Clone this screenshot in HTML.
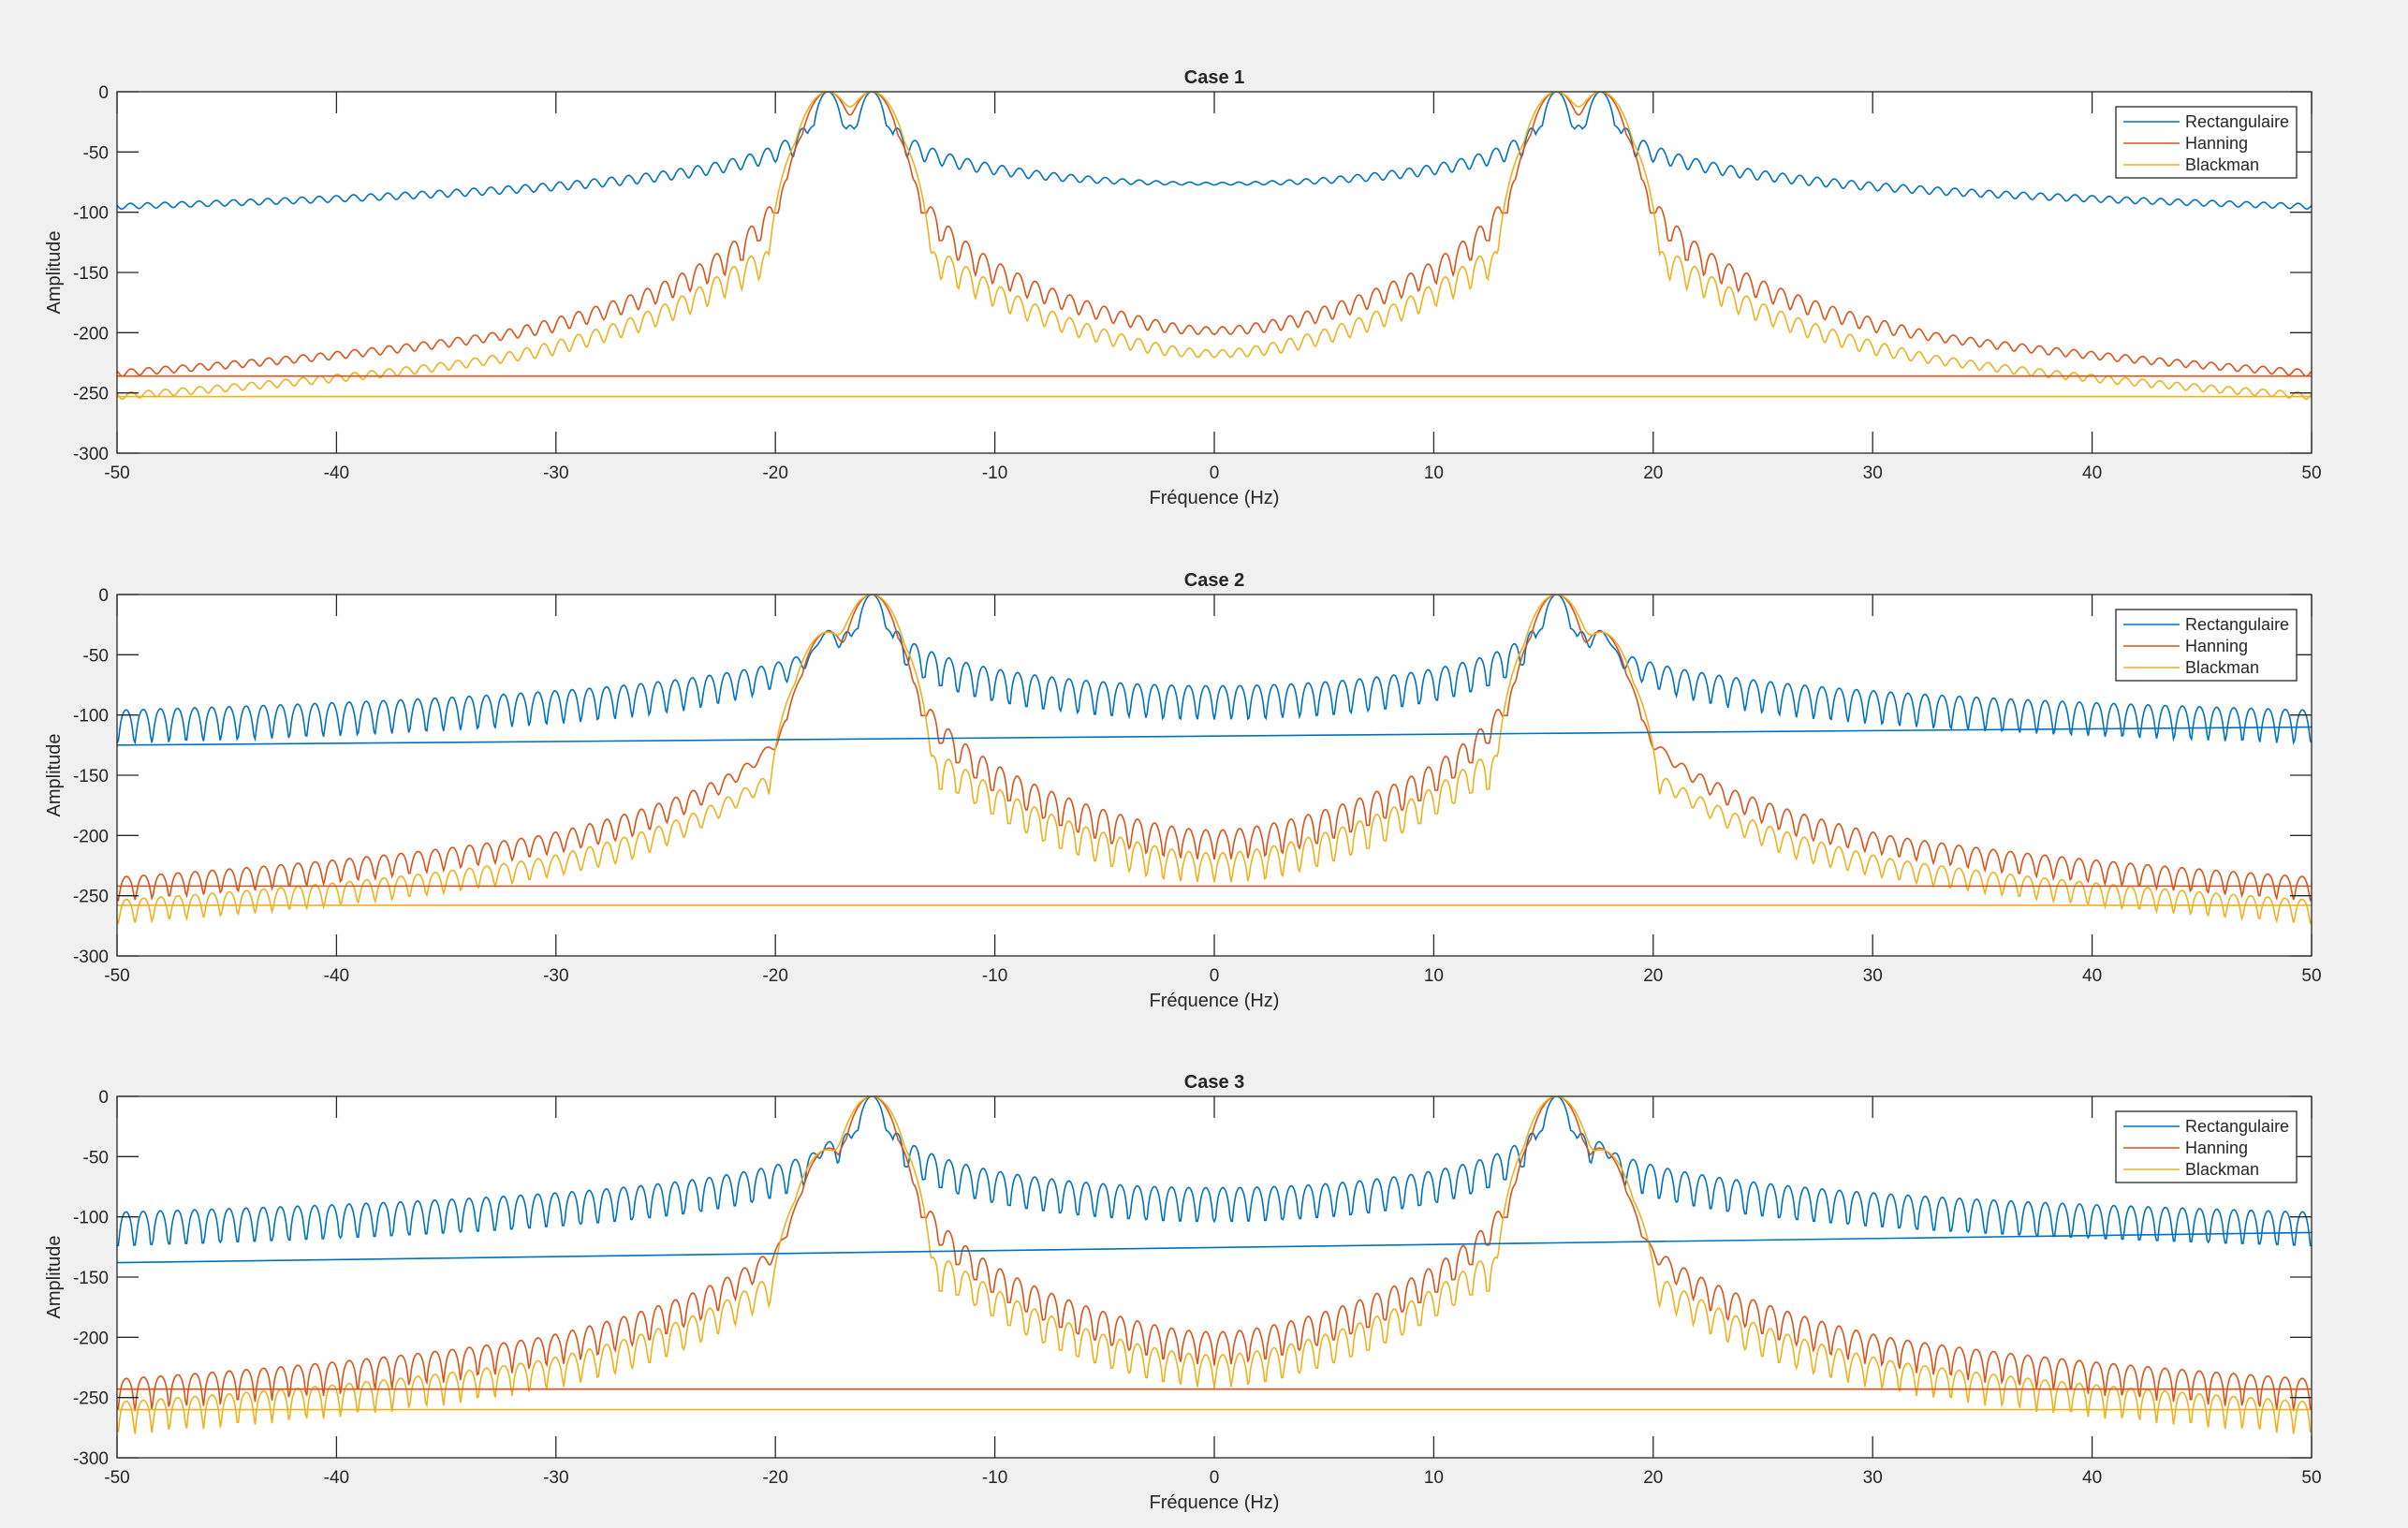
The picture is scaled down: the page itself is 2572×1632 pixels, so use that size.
<!DOCTYPE html>
<html><head><meta charset="utf-8">
<style>
html,body{margin:0;padding:0;background:#f0f0f0;}
svg{display:block;}
text{font-family:"Liberation Sans",Arial,sans-serif;fill:#262626;}
</style></head>
<body>
<svg id="s" width="2572" height="1632" xmlns="http://www.w3.org/2000/svg">
<rect x="0" y="0" width="2572" height="1632" fill="#f0f0f0"/>
</svg>
<script>
(function(){
const NS="http://www.w3.org/2000/svg";
const svg=document.getElementById('s');
const L=125,R=2469,W=R-L,H=386;
const tops=[98,635,1171];
const T=1.28,M=1700;
const f1=15.6,f2=17.6;
const cases=[{a1:1,a2:1,bl:null,rl:-236,yl:-253},
             {a1:1,a2:0.21,bl:[-125,-110],rl:-242,yl:-258},
             {a1:1,a2:0.11,bl:[-138,-113],rl:-243,yl:-260}];
const cols=["#0072BD","#D95319","#EDB120"];
function el(t,a,txt){const e=document.createElementNS(NS,t);for(const k in a)e.setAttribute(k,a[k]);if(txt!==undefined)e.textContent=txt;svg.appendChild(e);return e;}
function sinc(x){if(Math.abs(x)<1e-12)return 1;return Math.sin(Math.PI*x)/(Math.PI*x);}
function Rf(f){return T*sinc(f*T);}
const winC=[[[0,1]],[[0,0.5],[1,0.25],[-1,0.25]],[[0,0.42],[1,0.25],[-1,0.25],[2,0.04],[-2,0.04]]];
function Wr(wi,f){let s=0;for(const [k,c] of winC[wi])s+=c*Rf(f-k/T);return s;}
function X(f){return L+(f+50)/100*W;}
function Y(top,d){return top+(-d)/300*H;}
function limitDepth(a,win,depth){const o=a.slice();for(let i=0;i<a.length;i++){let mx=-1e9;for(let j=Math.max(0,i-win);j<=Math.min(a.length-1,i+win);j++)if(a[j]>mx)mx=a[j];if(o[i]<mx-depth)o[i]=mx-depth;}return o;}
const defs=el('defs',{});
tops.forEach((top,ci)=>{
 const c=cases[ci];
 el('rect',{x:L,y:top,width:W,height:H,fill:'#fff'});
 const cp=document.createElementNS(NS,'clipPath');cp.setAttribute('id','c'+ci);
 const cr=document.createElementNS(NS,'rect');cr.setAttribute('x',L);cr.setAttribute('y',top);cr.setAttribute('width',W);cr.setAttribute('height',H);
 cp.appendChild(cr);defs.appendChild(cp);
 const g=el('g',{'clip-path':'url(#c'+ci+')'});
 const groups=[[[f1,c.a1/2],[f2,c.a2/2]],[[-f1,c.a1/2],[-f2,c.a2/2]]];
 const dbs=[];
 for(let wi=0;wi<3;wi++){
  const mags=[];let mx=0;
  for(let i=0;i<=M;i++){const f=-50+100*i/M;let pw=0;
   for(const grp of groups){let re=0,im=0;
    for(const [nu,a] of grp){const d=f-nu;const m=a*Wr(wi,d);const ph=-Math.PI*d*T;re+=m*Math.cos(ph);im+=m*Math.sin(ph);}
    pw+=re*re+im*im;}
   const m=Math.sqrt(pw);mags.push(m);if(m>mx)mx=m;}
  dbs.push(mags.map(m=>{let d=1.15*40*Math.log10(Math.max(m/mx,1e-12));return d<-330?-330:d;}));
 }
 dbs[1]=dbs[1].map(d=>d>-200?d:-200+(d+200)*0.7);
 const bk=dbs[2].map((v,i)=>{const f=-50+100*i/M;const d=Math.min(Math.abs(f-f1),Math.abs(f+f1),Math.abs(f-f2),Math.abs(f+f2));
   let w=(d-4)/2;w=w<0?0:(w>1?1:w);const h=dbs[1][i]-19;return (1-w)*v+w*h;});
 dbs[2]=bk;
 dbs.forEach((arr,wi)=>{
  const a2=limitDepth(arr,10,28);
  let d='';
  for(let i=0;i<=M;i++){const f=-50+100*i/M;d+=(i?'L':'M')+X(f).toFixed(1)+' '+Y(top,a2[i]).toFixed(1);}
  const p=document.createElementNS(NS,'path');p.setAttribute('d',d);p.setAttribute('fill','none');p.setAttribute('stroke',cols[wi]);p.setAttribute('stroke-width','1.6');
  g.appendChild(p);
 });
 const addL=(y1,y2,col)=>{const l=document.createElementNS(NS,'line');l.setAttribute('x1',L);l.setAttribute('x2',R);l.setAttribute('y1',Y(top,y1));l.setAttribute('y2',Y(top,y2));l.setAttribute('stroke',col);l.setAttribute('stroke-width','1.6');g.appendChild(l);};
 if(c.bl)addL(c.bl[0],c.bl[1],cols[0]);
 addL(c.rl,c.rl,cols[1]);addL(c.yl,c.yl,cols[2]);
 for(let f=-50;f<=50;f+=10){const x=X(f);
  el('line',{x1:x,x2:x,y1:top+H,y2:top+H-23,stroke:'#262626','stroke-width':1.3});
  el('line',{x1:x,x2:x,y1:top,y2:top+23,stroke:'#262626','stroke-width':1.3});
  el('text',{x:x,y:top+H+27,'font-size':19,'text-anchor':'middle'},String(f));}
 for(let v=0;v>=-300;v-=50){const y=Y(top,v);
  el('line',{x1:L,x2:L+23,y1:y,y2:y,stroke:'#262626','stroke-width':1.3});
  el('line',{x1:R,x2:R-23,y1:y,y2:y,stroke:'#262626','stroke-width':1.3});
  el('text',{x:116,y:y+7,'font-size':19,'text-anchor':'end'},String(v));}
 el('rect',{x:L,y:top,width:W,height:H,fill:'none',stroke:'#262626','stroke-width':1.3});
 el('text',{x:(L+R)/2,y:top-9,'font-size':20,'font-weight':'bold','text-anchor':'middle'},'Case '+(ci+1));
 el('text',{x:(L+R)/2,y:top+H+54,'font-size':20,'text-anchor':'middle'},'Fréquence (Hz)');
 el('text',{x:0,y:0,'font-size':20,'text-anchor':'middle',transform:'translate(64,'+(top+H/2)+') rotate(-90)'},'Amplitude');
 el('rect',{x:2260,y:top+16,width:193,height:76,fill:'#fff',stroke:'#262626','stroke-width':1.3});
 ['Rectangulaire','Hanning','Blackman'].forEach((t,i)=>{const y=top+32+i*23;
  el('line',{x1:2268,x2:2328,y1:y,y2:y,stroke:cols[i],'stroke-width':1.6});
  el('text',{x:2334,y:y+6,'font-size':18},t);});
});
})();
</script>
</body></html>
